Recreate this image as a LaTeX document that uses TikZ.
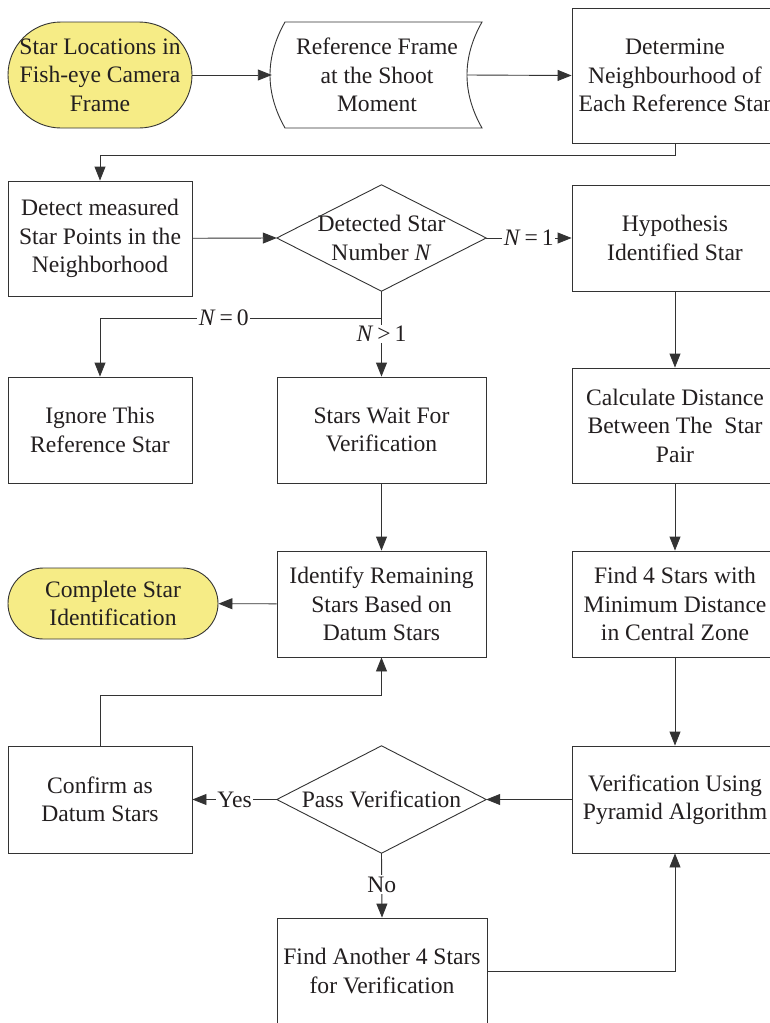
\documentclass[tikz,border=0pt]{standalone}
\usepackage{fontspec}
\setmainfont{Liberation Serif}
\usetikzlibrary{arrows.meta,calc}
\definecolor{ink}{HTML}{231F20}
\definecolor{line}{HTML}{333333}
\definecolor{term}{HTML}{F6EC86}
\begin{document}
\begin{tikzpicture}[x=1pt,y=-1pt,
  every node/.style={font=\fontsize{23.6}{28.5}\selectfont, text=ink, align=center, inner sep=0pt},
  box/.style={draw=line, line width=0.9pt, rectangle},
  terminal/.style={draw=line, line width=0.9pt, fill=term},
  plain/.style={rectangle},
  conn/.style={draw=line, line width=0.9pt},
  arr/.style={conn, -{Triangle[length=14pt,width=11pt]}},
  lab/.style={fill=white, inner sep=1.5pt}
]
\useasboundingbox (0,0) rectangle (770,1023);
\fill[white] (0,0) rectangle (770,1023);

% row 1
\node[terminal, rounded corners=53pt, minimum width=184pt, minimum height=106pt] (start) at (100,75) {Star Locations in\\Fish-eye Camera\\Frame};
\node[plain, minimum width=210pt, minimum height=106pt] (ref) at (377,75) {Reference Frame\\at the Shoot\\Moment};
\draw[conn] (285,22) -- (482,22) .. controls (462,57.3) and (462,92.7) .. (482,128)
  -- (285,128) .. controls (265,92.7) and (265,57.3) .. (285,22) -- cycle;
\coordinate (refout) at (467,75);
\node[box, minimum width=206pt, minimum height=135pt] (det) at (675,75.5) {Determine\\Neighbourhood of\\Each Reference Star};

% row 2
\node[box, minimum width=184pt, minimum height=115pt] (detect) at (100,238.5) {Detect measured\\Star Points in the\\Neighborhood};
\node[plain, minimum width=209pt, minimum height=106pt] (dia) at (381.5,238) {Detected Star\\Number \textit{N}};
\draw[conn] (dia.north) -- (dia.east) -- (dia.south) -- (dia.west) -- cycle;
\node[box, minimum width=206pt, minimum height=106pt] (hyp) at (675,238) {Hypothesis\\Identified Star};

% row 3
\node[box, minimum width=184pt, minimum height=106pt] (ign) at (100,430) {Ignore This\\Reference Star};
\node[box, minimum width=209pt, minimum height=106pt] (wait) at (381.5,430) {Stars Wait For\\Verification};
\node[box, minimum width=206pt, minimum height=115pt] (calc) at (675,425.5) {Calculate Distance\\Between The\ \ Star\\Pair};

% row 4
\node[terminal, rounded corners=35.5pt, minimum width=210pt, minimum height=71pt] (comp) at (113,603.5) {Complete Star\\Identification};
\node[box, minimum width=209pt, minimum height=106pt] (ident) at (381.5,604) {Identify Remaining\\Stars Based on\\Datum Stars};
\node[box, minimum width=206pt, minimum height=106pt] (find) at (675,604) {Find 4 Stars with\\Minimum Distance\\in Central Zone};

% row 5
\node[box, minimum width=184pt, minimum height=107pt] (conf) at (100,799.5) {Confirm as\\Datum Stars};
\node[plain, minimum width=209pt, minimum height=107pt] (pass) at (381.5,799.5) {Pass Verification};
\draw[conn] (pass.north) -- (pass.east) -- (pass.south) -- (pass.west) -- cycle;
\node[box, minimum width=206pt, minimum height=107pt] (verif) at (675,799.5) {Verification Using\\Pyramid Algorithm};

% row 6
\node[box, minimum width=210pt, minimum height=106pt] (another) at (382,971) {Find Another 4 Stars\\for Verification};

% connectors
\draw[arr] (start) -- (ref.west);
\draw[arr] (refout) -- (det.west);
\coordinate (t1) at (100,155);
\draw[arr] (det.south) |- (t1) -- (detect.north);
\draw[arr] (detect) -- (dia.west);
\draw[arr] (dia.east) -- node[lab]{\textit{N}\,=\,1} (hyp.west);
\coordinate (j) at (381.5,318);
\draw[conn] (dia.south) -- (j);
\draw[arr] (j) -| node[lab, pos=0.28]{\textit{N}\,=\,0} (ign.north);
\draw[arr] (j) -- node[lab, pos=0.27]{\textit{N}\,>\,1} (wait.north);
\draw[arr] (hyp) -- (calc);
\draw[arr] (wait) -- (ident);
\draw[arr] (calc) -- (find);
\draw[arr] (ident) -- (comp);
\draw[arr] (find) -- (verif);
\coordinate (t2) at (100,695);
\draw[arr] (conf.north) -- (t2) -| (ident.south);
\draw[arr] (verif) -- (pass.east);
\draw[arr] (pass.west) -- node[lab]{Yes} (conf.east);
\draw[arr] (pass.south) -- node[lab, pos=0.49]{No} (another.north);
\draw[arr] (another.east) -| (verif.south);
\end{tikzpicture}
\end{document}
